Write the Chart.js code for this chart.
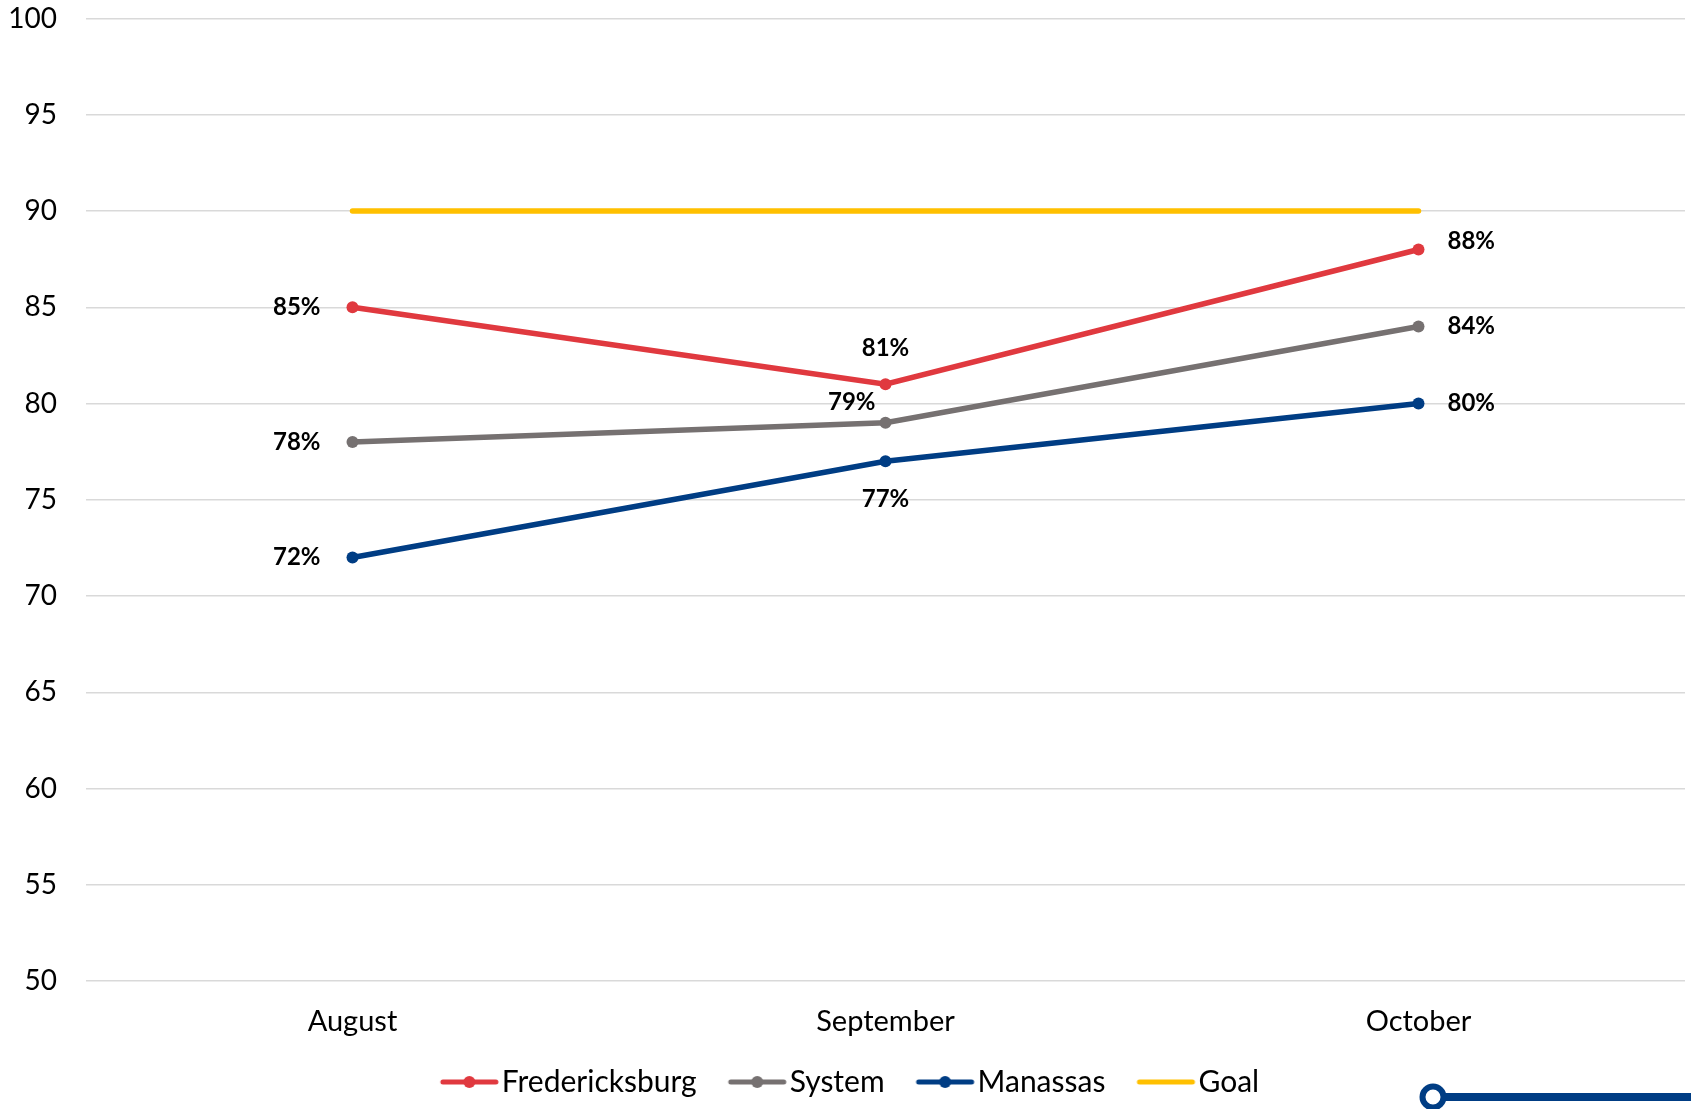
<!DOCTYPE html>
<html>
<head>
<meta charset="utf-8">
<script src="https://cdn.jsdelivr.net/npm/chart.js@4.4.1/dist/chart.umd.min.js"></script>
<style>
  html, body { margin: 0; padding: 0; background: #fff; }
  #wrap { position: relative; width: 1691px; height: 1109px; }
</style>
</head>
<body>
<div id="wrap"><canvas id="myChart"></canvas></div>
<script>
const months = ['August', 'September', 'October'];
const fredericksburg = [85, 81, 88];
const system = [78, 79, 84];
const manassas = [72, 77, 80];
const goal = [90, 90, 90];
const yTicks = [50, 55, 60, 65, 70, 75, 80, 85, 90, 95, 100];

const RED = '#E0393F';
const GREY = '#767171';
const BLUE = '#003D84';
const GOLD = '#FFC000';
const FONT = 'Lato, "Open Sans", sans-serif';

// line + dot icon for the legend; the line sits to the right so it hugs the text
function legendIcon(color, withDot) {
  let c = document.createElement('canvas');
  c.width = 140; c.height = 14;
  let g = c.getContext('2d');
  g.strokeStyle = color;
  g.lineWidth = 5;
  g.lineCap = 'round';
  g.beginPath(); g.moveTo(56, 7); g.lineTo(109, 7); g.stroke();
  if (withDot) {
    g.fillStyle = color;
    g.beginPath(); g.arc(82.5, 7, 6, 0, Math.PI * 2); g.fill();
  }
  return c;
}
const icons = [legendIcon(RED, true), legendIcon(GREY, true), legendIcon(BLUE, true), legendIcon(GOLD, false)];

// where each value label sits relative to its point
const labelSpots = [
  ['left', 'top', 'upright'],
  ['left', 'topleft', 'right'],
  ['left', 'bottom', 'right'],
  null
];

const valueLabels = {
  id: 'valueLabels',
  afterDatasetsDraw(chart) {
    let ctx = chart.ctx;
    ctx.save();
    ctx.font = 'bold 24px ' + FONT;
    ctx.fillStyle = '#000';
    ctx.textBaseline = 'middle';
    chart.data.datasets.forEach((ds, i) => {
      let spots = labelSpots[i];
      if (!spots) return;
      chart.getDatasetMeta(i).data.forEach((pt, j) => {
        let txt = ds.data[j] + '%';
        let x = pt.x, y = pt.y;
        switch (spots[j]) {
          case 'left': ctx.textAlign = 'right'; x -= 32; break;
          case 'right': ctx.textAlign = 'left'; x += 29; break;
          case 'upright': ctx.textAlign = 'left'; x += 29; y -= 8; break;
          case 'top': ctx.textAlign = 'center'; y -= 36; break;
          case 'bottom': ctx.textAlign = 'center'; y += 38; break;
          case 'topleft': ctx.textAlign = 'right'; x -= 10; y -= 20; break;
        }
        ctx.fillText(txt, x, y);
      });
    });
    ctx.restore();
  }
};

// slide ornament in the bottom right corner
const cornerMark = {
  id: 'cornerMark',
  afterDraw(chart) {
    let ctx = chart.ctx;
    let w = chart.width, h = chart.height;
    ctx.save();
    ctx.strokeStyle = BLUE;
    ctx.lineWidth = 8;
    ctx.beginPath(); ctx.moveTo(1440, h - 12); ctx.lineTo(w, h - 12); ctx.stroke();
    ctx.fillStyle = '#fff';
    ctx.lineWidth = 6;
    ctx.beginPath(); ctx.arc(1433, h - 12, 10.5, 0, Math.PI * 2); ctx.fill(); ctx.stroke();
    ctx.restore();
  }
};

let ctx = document.getElementById('myChart').getContext('2d');
let chart = new Chart(ctx, {
  type: 'line',
  data: {
    labels: months,
    datasets: [
      { label: 'Fredericksburg', data: fredericksburg, borderColor: RED, backgroundColor: RED },
      { label: 'System', data: system, borderColor: GREY, backgroundColor: GREY },
      { label: 'Manassas', data: manassas, borderColor: BLUE, backgroundColor: BLUE },
      { label: 'Goal', data: goal, borderColor: GOLD, backgroundColor: GOLD,
        pointRadius: 0, borderCapStyle: 'round' }
    ]
  },
  options: {
    responsive: true,
    maintainAspectRatio: false,
    animation: false,
    elements: {
      line: { borderWidth: 5.5, tension: 0 },
      point: { radius: 6, hoverRadius: 6, borderWidth: 0, pointStyle: 'circle' }
    },
    layout: { padding: { top: 18.5, right: 5, bottom: 5, left: 0 } },
    scales: {
      x: {
        offset: true,
        grid: { display: false, drawTicks: false },
        border: { display: false },
        ticks: { color: '#000', font: { family: FONT, size: 29 }, padding: 23 },
        afterFit(scale) { scale.height = 68; }
      },
      y: {
        min: 50,
        max: 100,
        afterBuildTicks(scale) { scale.ticks = yTicks.map(v => ({ value: v })); },
        grid: { color: '#D9D9D9', lineWidth: 1.5, drawTicks: true, tickLength: 29, tickColor: 'rgba(0,0,0,0)' },
        border: { display: false },
        ticks: { color: '#000', font: { family: FONT, size: 28 }, padding: 0 },
        afterFit(scale) { scale.width = 86; }
      }
    },
    plugins: {
      legend: {
        position: 'bottom',
        maxHeight: 55,
        labels: {
          usePointStyle: true,
          pointStyleWidth: 60,
          padding: 18,
          color: '#000',
          font: { family: FONT, size: 30 },
          generateLabels(chart) {
            return chart.data.datasets.map((ds, i) => ({
              text: ds.label,
              pointStyle: icons[i],
              fontColor: '#000',
              datasetIndex: i,
              hidden: false,
              lineWidth: 0
            }));
          }
        }
      },
      tooltip: { enabled: false }
    }
  },
  plugins: [valueLabels, cornerMark]
});
</script>
</body>
</html>
